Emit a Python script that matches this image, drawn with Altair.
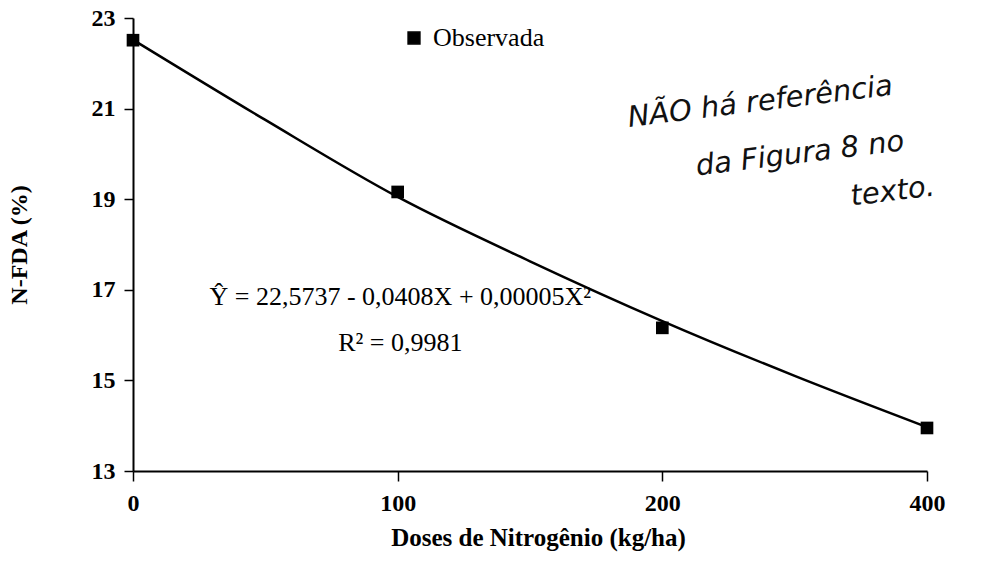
import altair as alt
import pandas as pd

# ---- data ----
doses = [0, 100, 200, 400]                      # x tick labels (categorical, equally spaced)
posicoes = [0, 1, 2, 3]                         # category positions
observada = [22.51, 19.16, 16.16, 13.95]        # observed N-FDA (%)

curva_pos = [0, 0.5, 1, 1.5, 2, 2.5, 3]         # fitted curve
curva_val = [22.52, 20.75, 19.05, 17.63, 16.31, 15.10, 13.97]

y_ticks = [13, 15, 17, 19, 21, 23]

eq_text = ["\u0176 = 22,5737 - 0,0408X + 0,00005X\u00b2", "R\u00b2 = 0,9981"]
eq_pos = [1.01, 1.01]
eq_val = [16.84, 15.83]

nota_text = ["N\u00c3O  h\u00e1  refer\u00eancia", "da  Figura  8  no", "texto."]
nota_pos = [2.37, 2.52, 2.87]
nota_val = [21.15, 20.0, 19.17]

SERIF = "Liberation Serif"

df_obs = pd.DataFrame({"pos": posicoes, "valor": observada, "serie": ["Observada"] * 4})
df_curva = pd.DataFrame({"pos": curva_pos, "valor": curva_val})
df_eq = pd.DataFrame({"pos": eq_pos, "valor": eq_val, "txt": eq_text})
df_nota = pd.DataFrame({"pos": nota_pos, "valor": nota_val, "txt": nota_text})

label_expr = "[" + ",".join("'%d'" % d for d in doses) + "][datum.value]"

xscale = alt.Scale(domain=[0, 3], nice=False, zero=False)
yscale = alt.Scale(domain=[13, 23], nice=False, zero=False)

x_axis = alt.Axis(
    values=posicoes, labelExpr=label_expr, title="Doses de Nitrog\u00eanio (kg/ha)",
    labelFont=SERIF, labelFontSize=24, labelFontWeight="bold", labelColor="black",
    titleFont=SERIF, titleFontSize=25, titleFontWeight="bold", titleColor="black",
    tickSize=10, labelPadding=10, titlePadding=10, labelFlush=False,
    titleX=405, titleAlign="center",
    domainColor="black", domainWidth=2, tickColor="black", tickWidth=1.5, grid=False,
)
y_axis = alt.Axis(
    values=y_ticks, title="N-FDA (%)",
    labelFont=SERIF, labelFontSize=24, labelFontWeight="bold", labelColor="black",
    titleFont=SERIF, titleFontSize=24, titleFontWeight="bold", titleColor="black",
    tickSize=9, labelPadding=9, titlePadding=60,
    domainColor="black", domainWidth=2, tickColor="black", tickWidth=1.5, grid=False,
)

curva = alt.Chart(df_curva).mark_line(color="black", strokeWidth=2.5, interpolate="monotone").encode(
    x=alt.X("pos:Q", scale=xscale, axis=x_axis),
    y=alt.Y("valor:Q", scale=yscale, axis=y_axis),
)

pontos = alt.Chart(df_obs).mark_point(shape="square", filled=True, size=160, opacity=1).encode(
    x=alt.X("pos:Q", scale=xscale),
    y=alt.Y("valor:Q", scale=yscale),
    color=alt.Color(
        "serie:N",
        scale=alt.Scale(range=["#000000"]),
        legend=alt.Legend(
            title=None, orient="none", legendX=268, legendY=7, padding=0,
            symbolType="square", symbolSize=140, symbolFillColor="black",
            symbolStrokeColor="black", symbolOpacity=1,
            labelFont=SERIF, labelFontSize=26, labelColor="black", labelOffset=6,
        ),
    ),
)

equacao = alt.Chart(df_eq).mark_text(font=SERIF, fontSize=26, color="black", align="center", baseline="middle").encode(
    x=alt.X("pos:Q", scale=xscale),
    y=alt.Y("valor:Q", scale=yscale),
    text="txt:N",
)

nota = alt.Chart(df_nota).mark_text(
    font="DejaVu Sans", fontSize=29, fontStyle="italic", fontWeight=200, color="#111111",
    align="center", baseline="middle", angle=353,
).encode(
    x=alt.X("pos:Q", scale=xscale),
    y=alt.Y("valor:Q", scale=yscale),
    text="txt:N",
)

chart = alt.layer(curva, pontos, equacao, nota).properties(
    width=794, height=453,
    autosize=alt.AutoSizeParams(type="none"),
    padding={"left": 133, "top": 18, "right": 67, "bottom": 102},
    background="white",
).configure_view(stroke=None)

chart.save("out.html", embed_options={"renderer": "svg", "actions": False})
